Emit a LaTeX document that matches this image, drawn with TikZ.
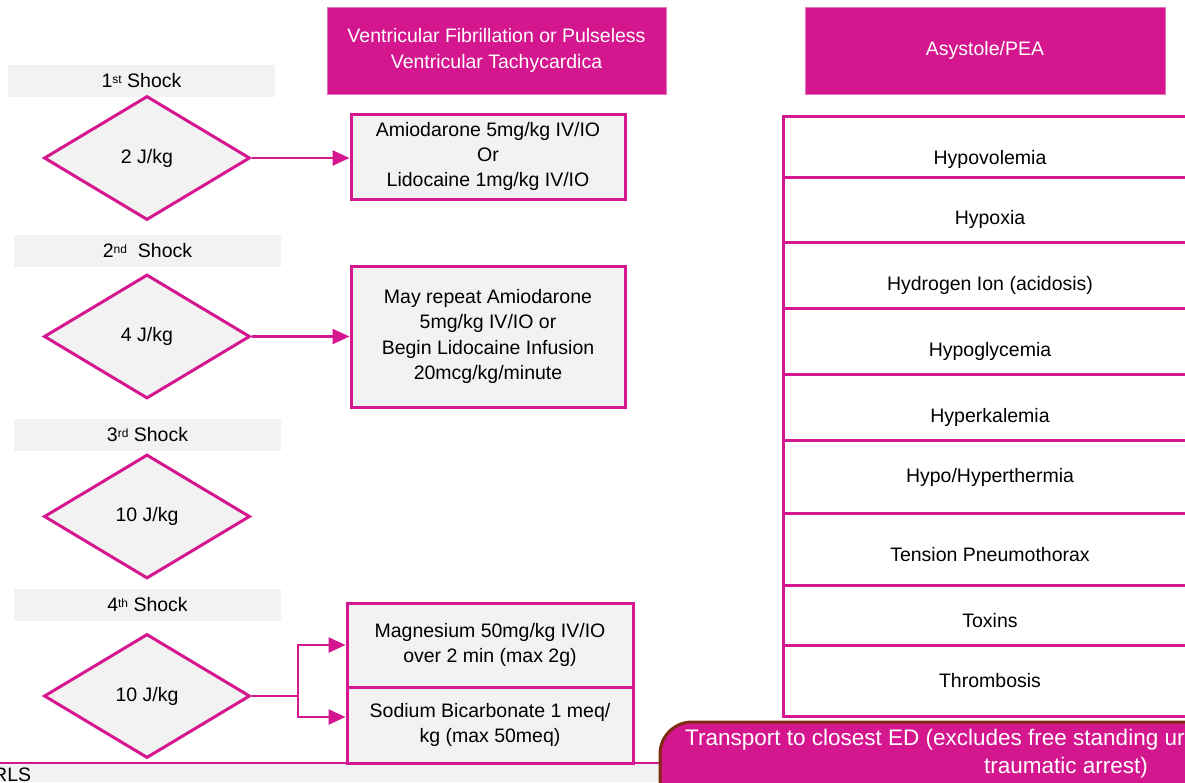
\documentclass[tikz,border=0pt]{standalone}
\usepackage{fontspec}
\setmainfont{Liberation Sans}
\usetikzlibrary{shapes.geometric,arrows.meta}
\definecolor{mag}{RGB}{212,22,143}
\definecolor{lgray}{RGB}{242,242,242}
\definecolor{brn}{RGB}{128,44,20}
\newcommand{\supx}[1]{\raisebox{0.45ex}{\fontsize{12}{12}\selectfont #1}}
\tikzset{
  txt/.style={font=\fontsize{19.5}{25.3}\selectfont, inner sep=0pt, align=center},
  header/.style={txt, rectangle, fill=mag, draw=mag!60!white, line width=1pt, text=white},
  shocklbl/.style={txt, rectangle, fill=lgray, minimum width=267pt, minimum height=32pt},
  dia/.style={txt, diamond, draw=mag, fill=lgray, line width=3pt, minimum width=206pt, minimum height=124pt, aspect=1.66},
  drug/.style={txt, rectangle, draw=mag, fill=lgray, line width=3pt},
  cell/.style={draw=mag, line width=3pt, fill=white},
  conn/.style={draw=mag, line width=2.5pt},
  arr/.style={conn, -{Triangle[length=17pt,width=15pt]}},
}
\begin{document}
\begin{tikzpicture}[x=1pt,y=-1pt]
\useasboundingbox (0,0) rectangle (1185,782);
\clip (0,0) rectangle (1185,782);
\fill[white] (0,0) rectangle (1185,782);

% headers
\node[header, minimum width=339pt, minimum height=87pt] (vf) at (496.5,50.5) {Ventricular Fibrillation or Pulseless\\Ventricular Tachycardica};
\node[header, minimum width=360pt, minimum height=87pt] (asy) at (985,50.5) {Asystole/PEA};

% shock labels
\node[shocklbl] (s1) at (141.5,81) {1\supx{st} Shock};
\node[shocklbl] (s2) at (147.5,251) {2\supx{nd}\ \ Shock};
\node[shocklbl] (s3) at (147.5,435) {3\supx{rd} Shock};
\node[shocklbl] (s4) at (147.5,605) {4\supx{th} Shock};

% diamonds
\node[dia] (d1) at (147,158) {2 J/kg};
\node[dia] (d2) at (147,336.5) {4 J/kg};
\node[dia] (d3) at (147,516.5) {10 J/kg};
\node[dia] (d4) at (147,696) {10 J/kg};

% drug boxes
\node[drug, minimum width=274pt, minimum height=85pt] (b1) at (488,156.5) {Amiodarone 5mg/kg IV/IO\\Or\\Lidocaine 1mg/kg IV/IO};
\node[drug, minimum width=274pt, minimum height=141pt] (b2) at (488,336.5) {May repeat Amiodarone\\5mg/kg IV/IO or\\Begin Lidocaine Infusion\\20mcg/kg/minute};

% bottom band
\fill[lgray] (0,764) rectangle (700,782);
\node[txt, anchor=north west] (rls) at (-7,768) {RLS};
\draw[conn] (0,763) -- (700,763);

\node[drug, minimum width=286pt, minimum height=84pt] (mg) at (490,645) {Magnesium 50mg/kg IV/IO\\over 2 min (max 2g)};
\node[drug, minimum width=286pt, minimum height=76pt] (na) at (490,725) {Sodium Bicarbonate 1 meq/\\kg (max 50meq)};

% connectors
\draw[arr] (d1.east) -- (b1.west |- d1.east);
\draw[arr] (d2.east) -- (b2.west |- d2.east);
\coordinate (split) at (298,696);
\draw[conn] (d4.east) -- (split);
\draw[arr] (split) |- (mg.west);
\draw[arr] (split) |- ([yshift=8pt]na.west);

% table of causes
\draw[cell] (783,116) rectangle (1200,177);
\draw[cell] (783,177) rectangle (1200,242);
\draw[cell] (783,242) rectangle (1200,308);
\draw[cell] (783,308) rectangle (1200,374);
\draw[cell] (783,374) rectangle (1200,440);
\draw[cell] (783,440) rectangle (1200,513);
\draw[cell] (783,513) rectangle (1200,585);
\draw[cell] (783,585) rectangle (1200,645);
\draw[cell] (783,645) rectangle (1200,716);
\node[txt] (c1) at (990,159) {Hypovolemia};
\node[txt] (c2) at (990,219) {Hypoxia};
\node[txt] (c3) at (990,285) {Hydrogen Ion (acidosis)};
\node[txt] (c4) at (990,351) {Hypoglycemia};
\node[txt] (c5) at (990,417) {Hyperkalemia};
\node[txt] (c6) at (990,477) {Hypo/Hyperthermia};
\node[txt] (c7) at (990,555) {Tension Pneumothorax};
\node[txt] (c8) at (990,621) {Toxins};
\node[txt] (c9) at (990,681) {Thrombosis};

% transport
\draw[fill=mag, draw=brn, line width=3pt, rounded corners=32pt] (660,830) -- (660,722) -- (1400,722) -- (1400,830);
\node[txt, text=white, anchor=west, font=\fontsize{22.5}{28}\selectfont] (tr1) at (685,740) {Transport to closest ED (excludes free standing ur};
\node[txt, text=white, font=\fontsize{22.5}{28}\selectfont] (tr2) at (1066,768) {traumatic arrest)};
\end{tikzpicture}
\end{document}
